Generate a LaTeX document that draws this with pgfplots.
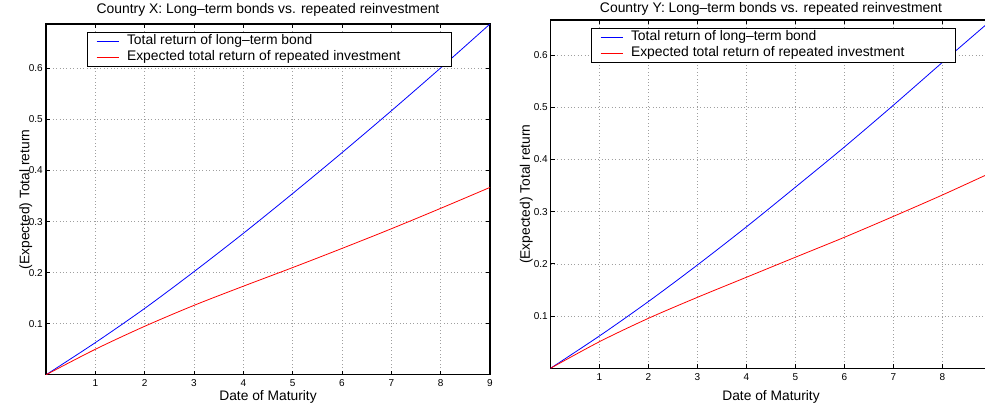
\documentclass[border=0pt]{standalone}
\usepackage{pgfplots}
\usepackage{pgfplotstable}
\pgfplotsset{compat=1.18}
\usepackage{fontspec}
\setmainfont{Liberation Sans}

% Total return of the long-term bond and expected total return of
% repeated one-period investment, by date of maturity
\pgfplotstableread{
t     bond    repeat
0     0.000   0.0000
1     0.063   0.0500
2     0.130   0.0950
3     0.202   0.1360
4     0.277   0.1735
5     0.355   0.2100
6     0.435   0.2475
7     0.517   0.2860
8     0.601   0.3260
9     0.687   0.3670
}\countryX

\pgfplotstableread{
t     bond    repeat
0     0.000   0.0000
1     0.062   0.0510
2     0.128   0.0958
3     0.198   0.1360
4     0.271   0.1744
5     0.347   0.2128
6     0.424   0.2510
7     0.504   0.2910
8     0.586   0.3320
9     0.667   0.3750
}\countryY

\pgfplotsset{
  bondaxis/.style={
    scale only axis,
    xmin=0, xmax=9, ymin=0,
    ytick={0.1,0.2,0.3,0.4,0.5,0.6},
    grid=major,
    grid style={gray!75, line width=0.5pt, dash pattern=on 0.8pt off 2.6pt},
    tick align=inside,
    major tick length=4pt,
    axis line style={line width=1.1pt},
    every tick/.style={black, line width=0.8pt},
    /pgf/number format/assume math mode=true,
    ticklabel style={font=\fontsize{10}{12}\selectfont, inner sep=0pt},
    xticklabel style={anchor=north, yshift=-5pt},
    xlabel={Date of Maturity},
    ylabel={(Expected) Total return},
    every axis x label/.style={at={(axis description cs:0.5,0)}, anchor=north,
      inner sep=0pt, font=\fontsize{13.8}{16}\selectfont},
    every axis y label/.style={at={(axis description cs:0,0.5)}, rotate=90, anchor=south,
      inner sep=0pt, font=\fontsize{13.8}{16}\selectfont},
    every axis title/.style={at={(axis description cs:0.5,1)}, anchor=south,
      inner sep=0pt, font=\fontsize{13.9}{16}\selectfont},
    legend style={
      at={(axis description cs:0,1)}, anchor=north west,
      cells={anchor=west},
      inner xsep=9pt, inner ysep=1pt,
      column sep=8pt, row sep=0pt,
      nodes={inner xsep=0pt, inner ysep=1.5pt, text height=10pt, text depth=3pt,
             font=\fontsize{13.9}{15}\selectfont},
    },
  },
  bondline/.style={line width=0.8pt, smooth, no markers},
  bondblue/.style={bondline, blue,
    legend image code/.code={\draw[blue, line width=0.8pt] (0pt,0pt) -- (22pt,0pt);}},
  bondred/.style={bondline, red,
    legend image code/.code={\draw[red, line width=0.8pt] (0pt,0pt) -- (22pt,0pt);}},
}

\begin{document}
\begin{tikzpicture}
\useasboundingbox (0pt,0pt) rectangle (985pt,-409pt);
\clip (0pt,0pt) rectangle (985pt,-409pt);

\begin{axis}[bondaxis,
  at={(46pt,-374.8pt)}, anchor=south west,
  width=444pt, height=350.8pt,
  ymax=0.687,
  xtick={1,2,3,4,5,6,7,8,9},
  title={Country X: Long\textendash term bonds vs. repeated reinvestment},
  title style={yshift=7pt},
  xlabel style={yshift=-15pt},
  ylabel style={yshift=13.5pt},
  yticklabel style={anchor=east, xshift=-3pt},
  legend style={xshift=41pt, yshift=-8pt},
]
\addplot[bondblue] table[x=t, y=bond] {\countryX};
\addlegendentry{Total return of long\textendash term bond}
\addplot[bondred] table[x=t, y=repeat] {\countryX};
\addlegendentry{Expected total return of repeated investment\hspace*{42pt}}
\end{axis}

\begin{axis}[bondaxis,
  at={(550.5pt,-368.3pt)}, anchor=south west,
  width=441pt, height=348.3pt,
  ymax=0.667,
  xtick={1,2,3,4,5,6,7,8},
  title={Country Y: Long\textendash term bonds vs. repeated reinvestment},
  title style={yshift=4.5pt},
  xlabel style={yshift=-21.5pt},
  ylabel style={yshift=17.5pt},
  yticklabel style={anchor=east, xshift=-2.5pt},
  legend style={xshift=40.5pt, yshift=-8pt},
]
\addplot[bondblue] table[x=t, y=bond] {\countryY};
\addlegendentry{Total return of long\textendash term bond}
\addplot[bondred] table[x=t, y=repeat] {\countryY};
\addlegendentry{Expected total return of repeated investment\hspace*{42pt}}
\end{axis}
\end{tikzpicture}
\end{document}
